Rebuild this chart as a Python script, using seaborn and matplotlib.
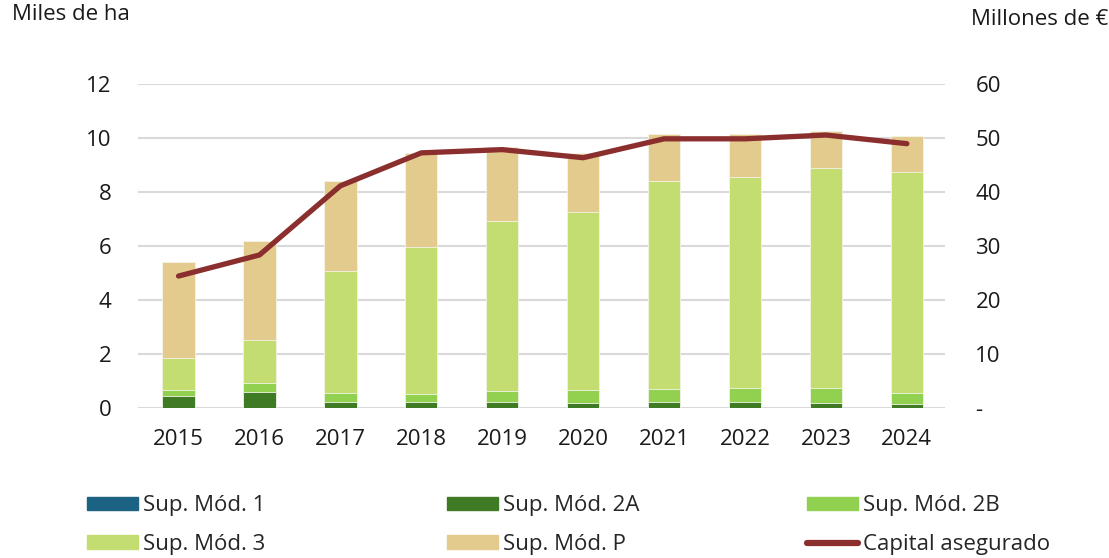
import numpy as np
import pandas as pd
import seaborn as sns
import matplotlib.pyplot as plt
from matplotlib.patches import Patch
from matplotlib.lines import Line2D
from matplotlib.ticker import FuncFormatter

years = ['2015', '2016', '2017', '2018', '2019', '2020', '2021', '2022', '2023', '2024']
mod1 = [0.01, 0.01, 0.01, 0.01, 0.01, 0.01, 0.01, 0.01, 0.01, 0.01]
mod2a = [0.43, 0.58, 0.21, 0.21, 0.21, 0.17, 0.22, 0.19, 0.16, 0.12]
mod2b = [0.22, 0.33, 0.33, 0.30, 0.41, 0.48, 0.47, 0.54, 0.57, 0.42]
mod3 = [1.19, 1.60, 4.52, 5.44, 6.30, 6.60, 7.70, 7.81, 8.14, 8.19]
modp = [3.55, 3.67, 3.33, 3.49, 2.72, 2.19, 1.75, 1.60, 1.37, 1.31]
capital = [24.4, 28.3, 41.1, 47.2, 47.8, 46.3, 49.8, 49.8, 50.5, 48.9]

series = ['Sup. Mód. 1', 'Sup. Mód. 2A', 'Sup. Mód. 2B', 'Sup. Mód. 3', 'Sup. Mód. P']
colors = ['#1b6283', '#3e7b24', '#92d050', '#c4dd70', '#e3cb8e']
line_color = '#8b2e2e'
txt = '#1a1a1a'
fs = 16

df = pd.DataFrame({'year': years, series[0]: mod1, series[1]: mod2a,
                   series[2]: mod2b, series[3]: mod3, series[4]: modp})
cum = df[series].cumsum(axis=1)

sns.set_style('white')
plt.rcParams['font.family'] = ['Open Sans', 'DejaVu Sans']

fig = plt.figure(figsize=(11.09, 5.58), dpi=100)
ax = fig.add_axes([0.1245, 0.269, 0.7275, 0.581])

# stacked bars: draw cumulative totals from the top down
for s, c in reversed(list(zip(series, colors))):
    sns.barplot(x=df['year'], y=cum[s], color=c, width=0.4, ax=ax,
                edgecolor='#f4f4ea', linewidth=0.6, saturation=1, zorder=2)

ax.set_ylim(0, 12)
ax.set_yticks(range(0, 13, 2))
ax.set_xlim(-0.5, 9.47)
ax.yaxis.grid(True, color='#d9d9d9', linewidth=1.5, zorder=0)
ax.set_axisbelow(True)
for sp in ax.spines.values():
    sp.set_visible(False)
ax.set_xlabel('')
ax.set_ylabel('')
ax.tick_params(axis='both', length=0, labelsize=fs, colors=txt)
ax.tick_params(axis='y', pad=19)
ax.tick_params(axis='x', pad=15)

ax2 = ax.twinx()
sns.lineplot(x=np.arange(len(years)), y=capital, color=line_color, linewidth=3.8,
             ax=ax2, zorder=5)
ax2.set_ylim(0, 60)
ax2.set_yticks(range(0, 61, 10))
ax2.yaxis.set_major_formatter(FuncFormatter(lambda v, p: '-' if v == 0 else f'{v:.0f}'))
for sp in ax2.spines.values():
    sp.set_visible(False)
ax2.tick_params(axis='y', length=0, labelsize=fs, colors=txt, pad=22)
ax2.set_ylabel('')

fig.text(0.011, 0.992, 'Miles de ha', fontsize=fs, color=txt, va='top', ha='left')
fig.text(0.999, 0.984, 'Millones de €', fontsize=fs, color=txt, va='top', ha='right')

# legend: three columns placed separately
cols = [
    ([Patch(color=colors[0]), Patch(color=colors[3])], [series[0], series[3]], 87),
    ([Patch(color=colors[1]), Patch(color=colors[4])], [series[1], series[4]], 447),
    ([Patch(color=colors[2]), Line2D([], [], color=line_color, linewidth=4.5,
                                      solid_capstyle='round')],
     [series[2], 'Capital asegurado'], 807),
]
for h, l, xpx in cols:
    fig.legend(h, l, loc='center left', bbox_to_anchor=(xpx / 1109, 1 - 525 / 558),
               frameon=False, fontsize=fs, handlelength=2.3, handleheight=0.55,
               handletextpad=0.2, labelspacing=0.8, borderpad=0, borderaxespad=0)

fig.savefig('out.png', dpi=100)
